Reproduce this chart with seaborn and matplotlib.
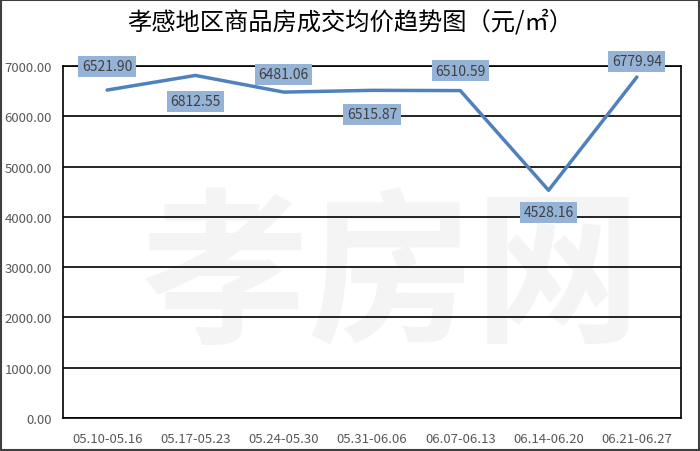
import pandas as pd
import matplotlib.pyplot as plt
import seaborn as sns
from matplotlib.patches import Rectangle

# Data
weeks = ["05.10-05.16", "05.17-05.23", "05.24-05.30", "05.31-06.06",
         "06.07-06.13", "06.14-06.20", "06.21-06.27"]
prices = [6521.90, 6812.55, 6481.06, 6515.87, 6510.59, 4528.16, 6779.94]
label_offsets = [24, -26, 18, -24, 20, -22, 16]  # pixels; positive = above

df = pd.DataFrame({"week": weeks, "price": prices, "pos": range(len(weeks))})

sns.set_theme(style="white")
plt.rcParams["font.family"] = ["Noto Sans CJK SC", "DejaVu Sans"]

fig = plt.figure(figsize=(7.0, 4.52), dpi=100)
ax = fig.add_axes([63 / 700, 1 - 419 / 452, 618 / 700, 352 / 452])
ax.set_facecolor("none")

# watermark behind the plot
fig.text(0.56, 0.38, "孝房网", fontsize=120, fontweight="bold", color="#f4f4f4",
         ha="center", va="center", zorder=-5)

sns.lineplot(data=df, x="pos", y="price", ax=ax, color="#4F81BD", linewidth=2.5)

for i, (p, off) in enumerate(zip(prices, label_offsets)):
    ax.annotate(f"{p:.2f}", xy=(i, p), xytext=(0, off), textcoords="offset pixels",
                ha="center", va="center", fontsize=10, color="#404040",
                bbox=dict(boxstyle="square,pad=0.25", fc="#95B3D7", ec="none"),
                annotation_clip=False, zorder=5)

ax.set_xlim(-0.5, len(weeks) - 0.5)
ax.set_ylim(0, 7000)
ax.set_yticks(range(0, 7001, 1000))
ax.set_yticklabels([f"{v:.2f}" for v in range(0, 7001, 1000)])
ax.set_xticks(range(len(weeks)))
ax.set_xticklabels(weeks)
ax.tick_params(axis="both", length=0, labelsize=9.5, labelcolor="#595959")
ax.tick_params(axis="x", pad=10)
ax.tick_params(axis="y", pad=8)
ax.set_xlabel("")
ax.set_ylabel("")
ax.grid(axis="y", color="black", linewidth=1.2)
for s in ax.spines.values():
    s.set_visible(True)
    s.set_color("black")
    s.set_linewidth(1.2)

fig.text(0.5, 1 - 22 / 452, "孝感地区商品房成交均价趋势图（元/㎡）", ha="center",
         va="center", fontsize=17.5, color="black")

fig.patches.append(Rectangle((0.002, 0.003), 0.996, 0.994, transform=fig.transFigure,
                             fill=False, ec="#404040", lw=1.5))

fig.savefig("out.png", dpi=100)
